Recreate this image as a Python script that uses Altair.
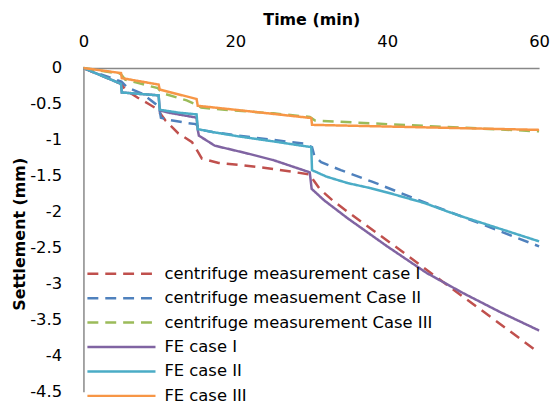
import altair as alt
import pandas as pd

series_names = [
    "centrifuge measurement case I",
    "centrifuge measuement Case II",
    "centrifuge measurement Case III",
    "FE case I",
    "FE case II",
    "FE case III",
]
series_colors = ["#C0504D", "#4F81BD", "#9BBB59", "#8064A2", "#4BACC6", "#F79646"]
series_dashes = [[11, 7], [11, 7], [11, 7], [1, 0], [1, 0], [1, 0]]

x_ticks = [0, 20, 40, 60]
y_ticks = [0, -0.5, -1, -1.5, -2, -2.5, -3, -3.5, -4, -4.5]

# centrifuge measurement case I
red_t = [0, 5, 5.5, 7.1, 8.6, 9.7, 10.8, 12.5, 14.3, 14.7, 15.6, 17.8, 20.8, 24, 27.3, 29.8, 30.3, 31.1, 32.8, 34.8, 41.3, 47.8, 54, 60]
red_s = [0, -0.22, -0.30, -0.41, -0.50, -0.57, -0.73, -0.91, -1.03, -1.10, -1.26, -1.32, -1.35, -1.39, -1.44, -1.48, -1.56, -1.68, -1.84, -2.00, -2.50, -3.01, -3.49, -3.96]

# centrifuge measuement Case II
blue_t = [0, 5, 5.8, 7.8, 9.5, 10, 10.2, 11.2, 13.4, 14.8, 15.5, 17, 20.4, 25, 29, 30.1, 30.4, 31.3, 33.9, 38, 45.2, 52.2, 60]
blue_s = [0, -0.19, -0.27, -0.36, -0.50, -0.56, -0.69, -0.72, -0.76, -0.78, -0.86, -0.89, -0.94, -1.00, -1.05, -1.10, -1.22, -1.31, -1.42, -1.58, -1.88, -2.16, -2.48]

# centrifuge measurement Case III
green_t = [0, 4.9, 5.5, 6.9, 9.8, 10.4, 13.6, 14.9, 15.5, 18.6, 25, 29.8, 30.5, 40, 50, 60]
green_s = [0, -0.08, -0.16, -0.20, -0.28, -0.35, -0.45, -0.51, -0.55, -0.58, -0.63, -0.68, -0.73, -0.78, -0.83, -0.88]

# FE case I
purple_t = [0, 4.95, 5.05, 9.9, 10.05, 11.2, 14.9, 15.05, 15.2, 17.3, 21.3, 25, 29.8, 30.05, 31.7, 34.8, 40, 45.2, 50, 55, 60]
purple_s = [0, -0.22, -0.34, -0.38, -0.59, -0.62, -0.69, -0.86, -0.94, -1.08, -1.18, -1.28, -1.45, -1.68, -1.84, -2.09, -2.48, -2.85, -3.13, -3.40, -3.65]

# FE case II
teal_t = [0, 4.95, 5.05, 9.9, 10.05, 12.5, 14.9, 15.05, 17, 20.4, 25, 30.0, 30.1, 32, 34.8, 37.8, 40, 45, 47.8, 50, 55, 60]
teal_s = [0, -0.22, -0.34, -0.38, -0.58, -0.62, -0.645, -0.85, -0.89, -0.95, -1.02, -1.10, -1.42, -1.51, -1.60, -1.67, -1.73, -1.88, -1.99, -2.07, -2.24, -2.41]

# FE case III
orange_t = [0, 4.95, 5.05, 9.9, 10.05, 14.9, 15.05, 20.4, 30.0, 30.1, 60]
orange_s = [0, -0.07, -0.14, -0.23, -0.30, -0.43, -0.525, -0.585, -0.695, -0.79, -0.86]

all_t = [red_t, blue_t, green_t, purple_t, teal_t, orange_t]
all_s = [red_s, blue_s, green_s, purple_s, teal_s, orange_s]

rows = []
for name, ts, ss in zip(series_names, all_t, all_s):
    for t, s in zip(ts, ss):
        rows.append({"series": name, "time": t, "settlement": s})
df = pd.DataFrame(rows)

FONT = "DejaVu Sans"

legend = alt.Legend(
    orient="none",
    legendX=4,
    legendY=199,
    title=None,
    symbolType="M-7,0H7",
    symbolSize=96,
    symbolStrokeWidth=2.5,
    symbolOffset=26.04,
    labelOffset=35,
    labelFont=FONT,
    labelFontSize=16.5,
    labelColor="#000000",
    labelLimit=500,
    rowPadding=7.6,
    padding=0,
)

x_enc = alt.X(
    "time:Q",
    scale=alt.Scale(domain=[0, 60], nice=False, zero=False),
    axis=alt.Axis(
        orient="top",
        values=x_ticks,
        title="Time (min)",
        titleFont=FONT,
        titleFontSize=16,
        titleFontWeight="bold",
        titleColor="#000000",
        titleX=229.5,
        titleY=-49,
        titleAlign="center",
        titleBaseline="middle",
        labelFont=FONT,
        labelFontSize=16.5,
        labelColor="#000000",
        labelBaseline="middle",
        labelPadding=27,
        labelFlush=False,
        ticks=False,
        tickSize=0,
        grid=False,
        domainColor="#888888",
        domainWidth=1.5,
    ),
)

y_enc = alt.Y(
    "settlement:Q",
    scale=alt.Scale(domain=[-4.5, 0], nice=False, zero=False),
    axis=alt.Axis(
        values=y_ticks,
        labelExpr="'' + datum.value",
        title="Settlement  (mm)",
        titleFont=FONT,
        titleFontSize=16,
        titleFontWeight="bold",
        titleColor="#000000",
        titleAngle=270,
        titleX=-64,
        titleY=167,
        titleAlign="center",
        titleBaseline="middle",
        labelFont=FONT,
        labelFontSize=16.5,
        labelColor="#000000",
        labelPadding=22,
        labelFlush=False,
        ticks=False,
        tickSize=0,
        grid=False,
        domainColor="#888888",
        domainWidth=1.5,
    ),
)

color_enc = alt.Color(
    "series:N",
    scale=alt.Scale(domain=series_names, range=series_colors),
    legend=legend,
)
dash_enc = alt.StrokeDash(
    "series:N",
    scale=alt.Scale(domain=series_names, range=series_dashes),
    legend=legend,
)


def layer(names):
    return (
        alt.Chart(df[df["series"].isin(names)])
        .mark_line(strokeWidth=2.5)
        .encode(x=x_enc, y=y_enc, color=color_enc, strokeDash=dash_enc)
    )


chart = (
    alt.layer(layer(series_names[:3]), layer(series_names[3:]))
    .properties(
        width=459,
        height=326,
        autosize=alt.AutoSizeParams(type="none"),
        padding={"left": 76, "top": 59, "right": 12, "bottom": 16},
        background="#ffffff",
    )
    .configure_view(strokeWidth=0)
)

chart.save("out.html", embed_options={"renderer": "svg", "actions": False})
